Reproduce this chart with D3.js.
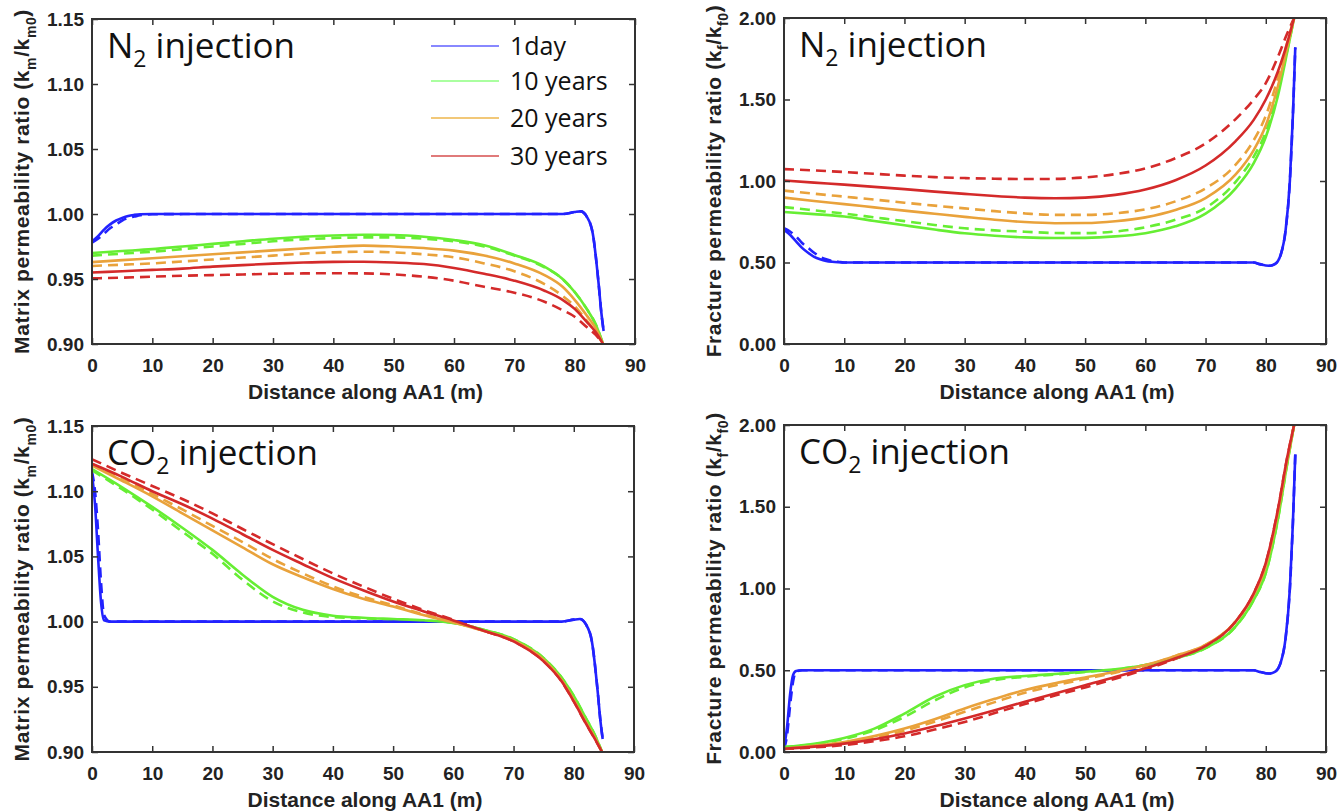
<!DOCTYPE html>
<html>
<head>
<meta charset="utf-8">
<script src="https://cdn.jsdelivr.net/npm/d3@7"></script>
<style>
  body { margin: 0; background: #fff; }
  svg { display: block; }
  .tick text { font-family: 'Liberation Sans', Arial, sans-serif; font-weight: bold; font-size: 19px; fill: #222; }
  .axis-title { font-family: 'Liberation Sans', Arial, sans-serif; font-weight: bold; font-size: 21px; fill: #222; }
  .panel-title, .legend text { font-family: 'Open Sans', 'Noto Sans', sans-serif; fill: #111; }
</style>
</head>
<body>
<div class="container"></div>
<script>
  const xTicks = [0, 10, 20, 30, 40, 50, 60, 70, 80, 90];
  const matrixTicks = [0.90, 0.95, 1.00, 1.05, 1.10, 1.15];
  const fractureTicks = [0, 0.5, 1.0, 1.5, 2.0];
  const seriesNames = ['1day', '10 years', '20 years', '30 years'];

  // shared distance grid for 10/20/30 years curves
  const gridX = [0, 5, 10, 15, 20, 25, 30, 35, 40, 45, 50, 55, 60, 65, 70, 75, 78, 80, 82, 83.5, 84.7];

  // N2 injection, matrix
  const n2MatBlueX = [0, 1, 2, 3, 4, 5, 6, 7, 8, 10, 20, 40, 60, 75, 78, 80, 81, 82, 83, 84, 84.4, 84.8];
  const n2MatBlue = [0.979, 0.983, 0.988, 0.992, 0.995, 0.997, 0.9985, 0.9993, 0.9998, 1.0, 1.0, 1.0, 1.0, 1.0, 1.0, 1.0015, 1.002, 0.998, 0.985, 0.945, 0.925, 0.910];
  const n2MatBlueDash = [0.978, 0.981, 0.985, 0.989, 0.992, 0.995, 0.997, 0.998, 0.999, 0.9998, 1.0, 1.0, 1.0, 1.0, 1.0, 1.0015, 1.002, 0.998, 0.985, 0.945, 0.925, 0.910];
  const n2MatGreen = [0.970, 0.9715, 0.973, 0.975, 0.977, 0.979, 0.981, 0.9825, 0.9835, 0.984, 0.9838, 0.9825, 0.980, 0.976, 0.9685, 0.9595, 0.950, 0.940, 0.927, 0.915, 0.900];
  const n2MatGreenDash = [0.968, 0.9695, 0.971, 0.973, 0.975, 0.977, 0.979, 0.9805, 0.9815, 0.982, 0.982, 0.981, 0.979, 0.975, 0.968, 0.959, 0.950, 0.940, 0.927, 0.915, 0.900];
  const n2MatOrange = [0.963, 0.9645, 0.966, 0.9675, 0.969, 0.9705, 0.972, 0.9735, 0.9748, 0.9757, 0.975, 0.9738, 0.9718, 0.968, 0.962, 0.953, 0.944, 0.934, 0.922, 0.912, 0.900];
  const n2MatOrangeDash = [0.960, 0.961, 0.962, 0.9635, 0.965, 0.9665, 0.968, 0.9695, 0.9705, 0.971, 0.9705, 0.969, 0.9667, 0.962, 0.956, 0.946, 0.937, 0.929, 0.918, 0.909, 0.900];
  const n2MatRed = [0.955, 0.956, 0.957, 0.958, 0.9595, 0.9607, 0.9618, 0.9627, 0.9632, 0.9633, 0.9627, 0.9615, 0.9585, 0.954, 0.9487, 0.941, 0.934, 0.927, 0.917, 0.909, 0.900];
  const n2MatRedDash = [0.9505, 0.951, 0.9518, 0.9525, 0.953, 0.9535, 0.954, 0.9543, 0.9544, 0.9543, 0.9535, 0.9518, 0.9487, 0.944, 0.9395, 0.9325, 0.926, 0.921, 0.913, 0.907, 0.900];

  // N2 injection, fracture
  const n2FracBlueX = [0, 1, 2, 3, 4, 5, 6, 7, 8, 9, 10, 20, 40, 60, 78, 79, 80.5, 81.5, 82.5, 83.3, 84, 84.5, 84.9];
  const n2FracBlue = [0.70, 0.67, 0.63, 0.59, 0.56, 0.535, 0.52, 0.51, 0.505, 0.502, 0.50, 0.50, 0.50, 0.50, 0.50, 0.49, 0.48, 0.49, 0.55, 0.70, 1.0, 1.4, 1.82];
  const n2FracBlueDash = [0.71, 0.69, 0.66, 0.62, 0.59, 0.56, 0.535, 0.52, 0.51, 0.505, 0.50, 0.50, 0.50, 0.50, 0.50, 0.49, 0.48, 0.49, 0.55, 0.70, 1.0, 1.4, 1.82];
  const n2FracGreen = [0.81, 0.797, 0.782, 0.755, 0.728, 0.702, 0.679, 0.664, 0.654, 0.650, 0.651, 0.660, 0.680, 0.722, 0.80, 0.955, 1.11, 1.27, 1.52, 1.78, 2.0];
  const n2FracGreenDash = [0.84, 0.82, 0.80, 0.777, 0.754, 0.73, 0.710, 0.697, 0.689, 0.681, 0.680, 0.690, 0.716, 0.762, 0.835, 0.995, 1.15, 1.30, 1.55, 1.79, 2.0];
  const n2FracOrange = [0.898, 0.877, 0.858, 0.838, 0.818, 0.799, 0.78, 0.762, 0.748, 0.741, 0.742, 0.753, 0.777, 0.822, 0.895, 1.04, 1.19, 1.34, 1.58, 1.81, 2.0];
  const n2FracOrangeDash = [0.941, 0.922, 0.904, 0.886, 0.867, 0.849, 0.832, 0.815, 0.801, 0.792, 0.792, 0.802, 0.826, 0.875, 0.955, 1.10, 1.25, 1.40, 1.63, 1.84, 2.0];
  const n2FracRed = [1.003, 0.99, 0.978, 0.964, 0.95, 0.935, 0.921, 0.908, 0.898, 0.894, 0.898, 0.915, 0.948, 1.005, 1.095, 1.245, 1.375, 1.50, 1.67, 1.84, 2.0];
  const n2FracRedDash = [1.073, 1.065, 1.055, 1.044, 1.033, 1.024, 1.018, 1.014, 1.012, 1.013, 1.022, 1.042, 1.077, 1.140, 1.230, 1.38, 1.50, 1.60, 1.76, 1.90, 2.0];

  // CO2 injection, matrix
  const co2MatBlueX = [0, 0.5, 1, 1.5, 2, 3, 10, 40, 60, 78, 80, 81, 82, 83, 84, 84.4, 84.8];
  const co2MatBlue = [1.113, 1.09, 1.05, 1.015, 1.001, 1.0, 1.0, 1.0, 1.0, 1.0, 1.0015, 1.002, 0.998, 0.985, 0.945, 0.925, 0.910];
  const co2MatBlueDash = [1.115, 1.10, 1.07, 1.03, 1.005, 1.0, 1.0, 1.0, 1.0, 1.0, 1.0015, 1.002, 0.998, 0.985, 0.945, 0.925, 0.910];
  const co2MatGreen = [1.117, 1.103, 1.088, 1.072, 1.055, 1.036, 1.019, 1.009, 1.0045, 1.003, 1.002, 1.001, 0.999, 0.9937, 0.9866, 0.972, 0.957, 0.943, 0.926, 0.913, 0.900];
  const co2MatGreenDash = [1.116, 1.1015, 1.086, 1.069, 1.052, 1.032, 1.0155, 1.007, 1.0035, 1.0025, 1.0015, 1.0008, 0.999, 0.9937, 0.9866, 0.972, 0.957, 0.943, 0.926, 0.913, 0.900];
  const co2MatOrange = [1.1196, 1.108, 1.096, 1.083, 1.070, 1.057, 1.044, 1.034, 1.025, 1.0175, 1.0116, 1.005, 0.9994, 0.993, 0.9855, 0.9707, 0.955, 0.940, 0.923, 0.911, 0.900];
  const co2MatOrangeDash = [1.121, 1.110, 1.098, 1.086, 1.0734, 1.061, 1.048, 1.037, 1.027, 1.019, 1.0125, 1.0055, 0.9997, 0.993, 0.9855, 0.9707, 0.955, 0.940, 0.923, 0.911, 0.900];
  const co2MatRed = [1.121, 1.111, 1.100, 1.090, 1.079, 1.067, 1.055, 1.044, 1.0333, 1.024, 1.0154, 1.008, 1.0009, 0.993, 0.9848, 0.9695, 0.954, 0.9388, 0.922, 0.910, 0.900];
  const co2MatRedDash = [1.1245, 1.114, 1.104, 1.094, 1.083, 1.071, 1.0594, 1.048, 1.037, 1.027, 1.0175, 1.009, 1.0014, 0.993, 0.9848, 0.9695, 0.954, 0.9388, 0.922, 0.910, 0.900];

  // CO2 injection, fracture
  const co2FracBlueX = [0, 0.5, 1, 1.5, 2, 3, 10, 40, 60, 78, 79, 80.5, 81.5, 82.5, 83.3, 84, 84.5, 84.9];
  const co2FracBlue = [0.02, 0.15, 0.35, 0.47, 0.495, 0.50, 0.50, 0.50, 0.50, 0.50, 0.49, 0.48, 0.49, 0.55, 0.70, 1.0, 1.4, 1.82];
  const co2FracBlueDash = [0.02, 0.10, 0.28, 0.43, 0.49, 0.50, 0.50, 0.50, 0.50, 0.50, 0.49, 0.48, 0.49, 0.55, 0.70, 1.0, 1.4, 1.82];
  const co2FracGreen = [0.03, 0.05, 0.086, 0.143, 0.235, 0.338, 0.409, 0.45, 0.465, 0.477, 0.491, 0.506, 0.532, 0.573, 0.635, 0.768, 0.93, 1.095, 1.42, 1.75, 2.0];
  const co2FracGreenDash = [0.03, 0.048, 0.08, 0.133, 0.215, 0.315, 0.395, 0.44, 0.46, 0.474, 0.489, 0.505, 0.532, 0.573, 0.635, 0.768, 0.93, 1.095, 1.42, 1.75, 2.0];
  const co2FracOrange = [0.02, 0.038, 0.061, 0.097, 0.143, 0.20, 0.266, 0.325, 0.379, 0.42, 0.456, 0.491, 0.532, 0.588, 0.655, 0.798, 0.96, 1.136, 1.46, 1.77, 2.0];
  const co2FracOrangeDash = [0.02, 0.035, 0.056, 0.088, 0.13, 0.185, 0.246, 0.305, 0.362, 0.407, 0.447, 0.485, 0.528, 0.588, 0.655, 0.798, 0.96, 1.136, 1.46, 1.77, 2.0];
  const co2FracRed = [0.02, 0.033, 0.051, 0.078, 0.113, 0.157, 0.205, 0.256, 0.307, 0.358, 0.409, 0.458, 0.512, 0.573, 0.649, 0.798, 0.97, 1.157, 1.48, 1.79, 2.0];
  const co2FracRedDash = [0.018, 0.028, 0.043, 0.066, 0.096, 0.137, 0.184, 0.238, 0.293, 0.345, 0.395, 0.448, 0.505, 0.570, 0.648, 0.798, 0.97, 1.157, 1.48, 1.79, 2.0];

  const colors = ['#2222ff', '#66ee33', '#e9a23b', '#d42a2a'];
  const legendColors = ['#8888ff', '#aaffa0', '#f2c878', '#e07a7a'];

  const width = 1337;
  const height = 812;

  const svg = d3.select('.container')
    .append('svg')
    .attr('width', width)
    .attr('height', height);

  const panels = [
    { box: [92, 19, 635, 344], domain: [0.90, 1.15], ticks: matrixTicks, gas: 'N', kind: 'm',
      blueX: n2MatBlueX, series: [n2MatBlue, n2MatGreen, n2MatOrange, n2MatRed], dashed: [n2MatBlueDash, n2MatGreenDash, n2MatOrangeDash, n2MatRedDash], legend: true },
    { box: [784, 18, 1326, 344], domain: [0, 2], ticks: fractureTicks, gas: 'N', kind: 'f',
      blueX: n2FracBlueX, series: [n2FracBlue, n2FracGreen, n2FracOrange, n2FracRed], dashed: [n2FracBlueDash, n2FracGreenDash, n2FracOrangeDash, n2FracRedDash] },
    { box: [92, 426, 634, 752], domain: [0.90, 1.15], ticks: matrixTicks, gas: 'CO', kind: 'm',
      blueX: co2MatBlueX, series: [co2MatBlue, co2MatGreen, co2MatOrange, co2MatRed], dashed: [co2MatBlueDash, co2MatGreenDash, co2MatOrangeDash, co2MatRedDash] },
    { box: [784, 425, 1326, 752], domain: [0, 2], ticks: fractureTicks, gas: 'CO', kind: 'f',
      blueX: co2FracBlueX, series: [co2FracBlue, co2FracGreen, co2FracOrange, co2FracRed], dashed: [co2FracBlueDash, co2FracGreenDash, co2FracOrangeDash, co2FracRedDash] }
  ];

  panels.forEach((p, idx) => {
    const [x0, y0, x1, y1] = p.box;
    const x = d3.scaleLinear().domain([0, 90]).range([x0, x1]);
    const y = d3.scaleLinear().domain(p.domain).range([y1, y0]);
    const g = svg.append('g').attr('class', 'panel');

    const clipId = 'clip' + idx;
    svg.append('clipPath').attr('id', clipId)
      .append('rect').attr('x', x0).attr('y', y0 - 1).attr('width', x1 - x0).attr('height', y1 - y0 + 1);

    const line = d3.line()
      .x(d => x(d[0]))
      .y(d => y(d[1]))
      .curve(d3.curveMonotoneX);

    const lines = g.append('g').attr('clip-path', `url(#${clipId})`);
    const drawSeries = (vals, i, dash) => {
      const xs = i === 0 ? p.blueX : gridX;
      lines.append('path')
        .datum(xs.map((d, j) => [d, vals[j]]))
        .attr('fill', 'none')
        .attr('stroke', colors[i])
        .attr('stroke-width', 2.6)
        .attr('stroke-dasharray', dash ? '10,6' : null)
        .attr('d', line);
    };
    p.dashed.forEach((vals, i) => drawSeries(vals, i, true));
    p.series.forEach((vals, i) => drawSeries(vals, i, false));

    // Axes with inward ticks
    g.append('g')
      .attr('transform', `translate(0,${y1})`)
      .call(d3.axisBottom(x).tickValues(xTicks).tickSizeInner(-6).tickSizeOuter(0).tickPadding(15));
    g.append('g')
      .attr('transform', `translate(0,${y0})`)
      .call(d3.axisTop(x).tickValues(xTicks).tickSizeInner(-6).tickSizeOuter(0).tickFormat(''));
    g.append('g')
      .attr('transform', `translate(${x0},0)`)
      .call(d3.axisLeft(y).tickValues(p.ticks).tickSizeInner(-6).tickSizeOuter(0).tickPadding(8).tickFormat(d3.format('.2f')));
    g.append('g')
      .attr('transform', `translate(${x1},0)`)
      .call(d3.axisRight(y).tickValues(p.ticks).tickSizeInner(-6).tickSizeOuter(0).tickFormat(''));
    g.selectAll('.domain').remove();
    g.selectAll('.tick line').attr('stroke', '#333').attr('stroke-width', 1.5);

    g.append('rect')
      .attr('x', x0).attr('y', y0)
      .attr('width', x1 - x0).attr('height', y1 - y0)
      .attr('fill', 'none')
      .attr('stroke', '#333')
      .attr('stroke-width', 2);

    // X axis title
    g.append('text')
      .attr('class', 'axis-title')
      .attr('x', (x0 + x1) / 2 + 2)
      .attr('y', y1 + 55)
      .attr('text-anchor', 'middle')
      .text('Distance along AA1 (m)');

    // Y axis title with subscripts
    const yt = g.append('text')
      .attr('class', 'axis-title')
      .attr('text-anchor', 'middle')
      .attr('letter-spacing', '0.6px')
      .attr('transform', `translate(${x0 - 63},${(y0 + y1) / 2}) rotate(-90)`);
    const main = p.kind === 'm' ? 'Matrix permeability ratio (k' : 'Fracture permeability ratio (k';
    yt.append('tspan').text(main);
    yt.append('tspan').attr('dy', 7).attr('font-size', '14px').text(p.kind);
    yt.append('tspan').attr('dy', -7).text('/k');
    yt.append('tspan').attr('dy', 7).attr('font-size', '14px').text(p.kind + '0');
    yt.append('tspan').attr('dy', -7).text(')');

    // Panel title
    const t = g.append('text')
      .attr('class', 'panel-title')
      .attr('x', x0 + 15)
      .attr('y', y0 + 39)
      .attr('font-size', '35px');
    t.append('tspan').text(p.gas);
    t.append('tspan').attr('dy', 9).attr('font-size', '23px').text('2');
    t.append('tspan').attr('dy', -9).text(' injection');

    if (p.legend) {
      const lg = g.append('g').attr('class', 'legend');
      const rows = [46, 81, 118, 156];
      seriesNames.forEach((name, i) => {
        lg.append('line')
          .attr('x1', 431).attr('x2', 499)
          .attr('y1', rows[i]).attr('y2', rows[i])
          .attr('stroke', legendColors[i])
          .attr('stroke-width', 2);
        lg.append('text')
          .attr('x', 510)
          .attr('y', rows[i] + 9)
          .attr('font-size', '25px')
          .text(name);
      });
    }
  });
</script>
</body>
</html>
